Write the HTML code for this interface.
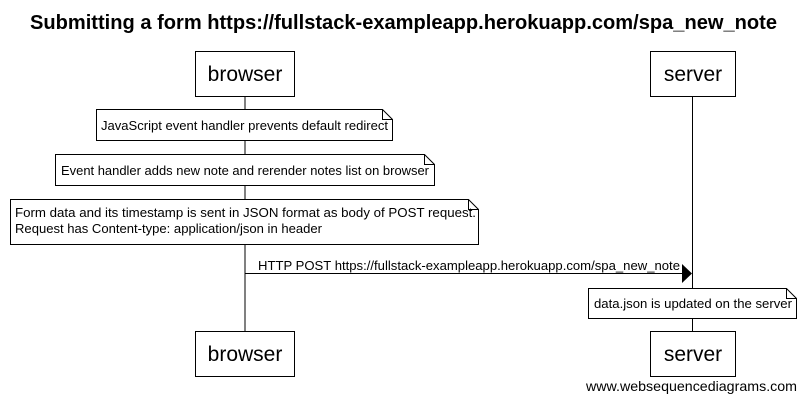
<!DOCTYPE html>
<html><head><style>body{margin:0;background:#fff}</style></head><body>
<svg width="806" height="401" xmlns="http://www.w3.org/2000/svg" font-family="Liberation Sans, Arial, sans-serif">
<rect width="806" height="401" fill="#fff"/>
<text x="30" y="29" font-size="20" font-weight="bold" textLength="747" lengthAdjust="spacingAndGlyphs">Submitting a form https://fullstack-exampleapp.herokuapp.com/spa_new_note</text>
<g stroke="#000" fill="none">
<line x1="245" y1="96" x2="245" y2="331"/>
<line x1="692.5" y1="96" x2="692.5" y2="331"/>
<rect x="195.5" y="51.5" width="99" height="45" fill="#fff"/>
<rect x="650.5" y="51.5" width="85" height="45" fill="#fff"/>
<rect x="195.5" y="331.5" width="99" height="45" fill="#fff"/>
<rect x="650.5" y="331.5" width="85" height="45" fill="#fff"/>
<path d="M96.5 109.5 H382.5 L392.5 119.5 V140.5 H96.5 Z M382.5 109.5 V119.5 H392.5" fill="#fff"/>
<path d="M55.5 154.5 H424.5 L434.5 164.5 V185.5 H55.5 Z M424.5 154.5 V164.5 H434.5" fill="#fff"/>
<path d="M10.5 199.5 H468.5 L478.5 209.5 V244.5 H10.5 Z M468.5 199.5 V209.5 H478.5" fill="#fff"/>
<path d="M588.5 288.5 H786.5 L796.5 298.5 V318.5 H588.5 Z M786.5 288.5 V298.5 H796.5" fill="#fff"/>
<line x1="245" y1="273.5" x2="682" y2="273.5"/>
</g>
<polygon points="682,264 692,273.5 682,283" fill="#000"/>
<g font-size="21" text-anchor="middle">
<text x="245" y="81">browser</text><text x="693" y="81">server</text>
<text x="245" y="361">browser</text><text x="693" y="361">server</text>
</g>
<g font-size="13" lengthAdjust="spacingAndGlyphs">
<text x="101" y="130" textLength="287" lengthAdjust="spacingAndGlyphs">JavaScript event handler prevents default redirect</text>
<text x="61" y="175" textLength="368" lengthAdjust="spacingAndGlyphs">Event handler adds new note and rerender notes list on browser</text>
<text x="15" y="217" textLength="461" lengthAdjust="spacingAndGlyphs">Form data and its timestamp is sent in JSON format as body of POST request.</text>
<text x="15" y="233" textLength="307" lengthAdjust="spacingAndGlyphs">Request has Content-type: application/json in header</text>
<text x="258" y="270" textLength="422" lengthAdjust="spacingAndGlyphs">HTTP POST https://fullstack-exampleapp.herokuapp.com/spa_new_note</text>
<text x="594" y="308" textLength="198" lengthAdjust="spacingAndGlyphs">data.json is updated on the server</text>
<text x="586" y="391" font-size="14" textLength="211" lengthAdjust="spacingAndGlyphs">www.websequencediagrams.com</text>
</g>
</svg>
</body></html>
